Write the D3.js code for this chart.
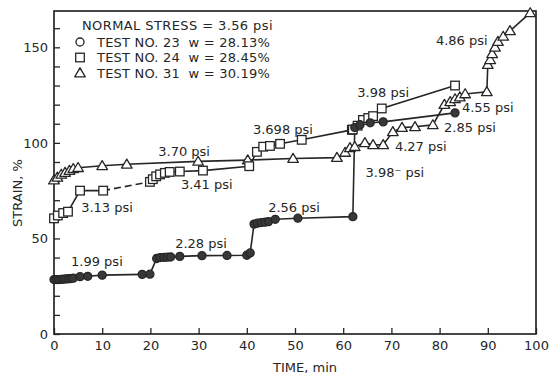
<!DOCTYPE html>
<html>
<head>
<meta charset="utf-8">
<script src="https://cdn.jsdelivr.net/npm/d3@7/dist/d3.min.js"></script>
<style>
  html, body { margin: 0; padding: 0; background: #fff; }
  svg { display: block; font-family: "DejaVu Sans", sans-serif; }
</style>
</head>
<body>
<svg id="chart" width="558" height="378"></svg>
<script>
// Creep test series: time (min) and strain (%)
const test23Time   = [0, 0.5, 1, 1.5, 2, 2.5, 3, 3.5, 4, 5.4, 7, 10, 18.3, 19.9, 21.3, 22, 22.8, 23.5, 24.2, 26.1, 30.7, 35.9, 40, 40.7, 41.5, 42.2, 43, 43.8, 44.5, 45.9, 50.6, 62, 62.4, 63.5, 65.6, 68.3, 83.2];
const test23Strain = [28.5, 28.5, 28.5, 28.6, 28.7, 28.8, 28.9, 29, 29.2, 30, 30.2, 30.8, 31.2, 31.3, 39.5, 40, 40.1, 40.2, 40.3, 40.6, 41, 41.1, 41.2, 42.4, 57.5, 58, 58.3, 58.5, 58.8, 60, 60.6, 61.4, 108, 109.5, 110.5, 111, 115.7];

const test24Time   = [0, 0.8, 1.9, 2.9, 5.4, 10.2, 19.9, 20.5, 21.2, 22, 23, 24, 26.1, 30.9, 40.5, 42.1, 43.4, 44.8, 46.9, 51.4, 61.8, 62, 63, 64.1, 65.2, 66.2, 68, 83.2];
const test24Strain = [60.5, 62, 63.3, 64, 75, 75, 79.6, 81, 82.5, 83.5, 84.3, 84.8, 85, 85.5, 87.8, 95.3, 98, 98.4, 99.5, 101.6, 106.8, 107, 109, 112, 113, 114, 118, 130];

const test31Time   = [0, 0.7, 1.5, 2.3, 3.2, 4, 5, 10, 15.1, 29.9, 40.2, 49.6, 58.7, 60.4, 61.4, 62.4, 64.5, 66.2, 68.3, 70.3, 72.2, 74.9, 78.6, 81, 82.2, 83.2, 84.2, 85.3, 89.8, 90, 90.5, 90.9, 91.5, 92.1, 93.2, 94.6, 98.8];
const test31Strain = [80.5, 82, 83.5, 84.5, 85.5, 86.5, 87, 88, 88.8, 90.3, 91, 91.8, 92.3, 95, 97.4, 98, 100, 99, 99, 105.8, 108, 108.4, 109.4, 120, 121.5, 123, 124, 125.6, 126.7, 141, 143.5, 146.6, 150, 153, 155.7, 158.6, 168];

// Axis ticks
const xTicks = [0, 10, 20, 30, 40, 50, 60, 70, 80, 90, 100];
const yTicks = [0, 10, 20, 30, 40, 50, 60, 70, 80, 90, 100, 110, 120, 130, 140, 150, 160];
const yTickLabels = [0, 50, 100, 150];

// Stress annotations: text, time, strain
const labelText   = ["1.99 psi", "2.28 psi", "2.56 psi", "3.13 psi", "3.41 psi", "3.70 psi", "3.698 psi", "3.98 psi", "3.98\u207B psi", "4.27 psi", "2.85 psi", "4.55 psi", "4.86 psi"];
const labelTime   = [8.9, 30.5, 49.8, 11, 31.7, 27, 47.5, 68.3, 70.7, 76.1, 86.3, 90, 84.6];
const labelStrain = [37.7, 47.6, 66, 66, 78, 95.3, 106.8, 126.2, 84.3, 97.9, 107.9, 118.3, 153.4];

// Legend
const legendTitle = "NORMAL STRESS = 3.56 psi";
const legendRows  = ["TEST NO. 23  w = 28.13%", "TEST NO. 24  w = 28.45%", "TEST NO. 31  w = 30.19%"];
const legendMarks = ["circle", "square", "triangle"];

const W = 558, H = 378;
const margin = { top: 11, right: 22, bottom: 44, left: 54 };
const ink = "#262626";
const fontSize = "13px";

const svg = d3.select("#chart");
const x = d3.scaleLinear().domain([0, 100]).range([margin.left, W - margin.right]);
const y = d3.scaleLinear().domain([0, 169]).range([H - margin.bottom, margin.top]);

// Axes with inward ticks
const xAxis = svg.append("g")
  .attr("transform", `translate(0,${H - margin.bottom})`)
  .call(d3.axisBottom(x).tickValues(xTicks).tickSize(-6).tickPadding(7).tickFormat(d3.format("d")));
const yAxis = svg.append("g")
  .attr("transform", `translate(${margin.left},0)`)
  .call(d3.axisLeft(y).tickValues(yTicks).tickSize(-6).tickPadding(6)
    .tickFormat(d => yTickLabels.includes(d) ? d : ""));
[xAxis, yAxis].forEach(g => {
  g.select(".domain").remove();
  g.selectAll(".tick line").attr("stroke", ink).attr("stroke-width", 1.3);
  g.selectAll(".tick text").attr("fill", ink).style("font-size", fontSize)
    .style("font-family", "'DejaVu Sans', sans-serif");
});

// Plot frame
svg.append("rect")
  .attr("x", x(0)).attr("y", y(169))
  .attr("width", x(100) - x(0)).attr("height", y(0) - y(169))
  .attr("fill", "none").attr("stroke", ink).attr("stroke-width", 1.7);

// Axis titles
svg.append("text")
  .attr("x", (x(0) + x(100)) / 2 + 10).attr("y", 372)
  .attr("text-anchor", "middle").attr("fill", ink)
  .style("font-size", fontSize).text("TIME, min");
svg.append("text")
  .attr("transform", `translate(22,193) rotate(-90)`)
  .attr("text-anchor", "middle").attr("fill", ink)
  .style("font-size", fontSize).text("STRAIN, %");

const pts = (t, s) => t.map((d, i) => [d, s[i]]);
const line = d3.line().x(d => x(d[0])).y(d => y(d[1]));

const series23 = pts(test23Time, test23Strain);
const series24 = pts(test24Time, test24Strain);
const series31 = pts(test31Time, test31Strain);

// Connecting lines
const lines = svg.append("g").attr("fill", "none").attr("stroke", ink).attr("stroke-width", 1.6);
lines.append("path").attr("d", line(series23));
lines.append("path").attr("d", line(series31));
// Test 24: dashed stretch between 10 and 20 minutes
const dashStart = 5;
lines.append("path").attr("d", line(series24.slice(0, dashStart + 1)));
lines.append("path").attr("d", line(series24.slice(dashStart, dashStart + 2)))
  .attr("stroke-dasharray", "7,4");
lines.append("path").attr("d", line(series24.slice(dashStart + 1)));

// Marker shapes
function marker(g, kind, cx, cy, filled) {
  const fill = filled ? "#383838" : "#fff";
  if (kind === "circle") {
    g.append("circle").attr("cx", cx).attr("cy", cy).attr("r", 4)
      .attr("fill", fill).attr("stroke", ink).attr("stroke-width", 1.3);
  } else if (kind === "square") {
    g.append("rect").attr("x", cx - 4.3).attr("y", cy - 4.3).attr("width", 8.6).attr("height", 8.6)
      .attr("fill", fill).attr("stroke", ink).attr("stroke-width", 1.3);
  } else {
    g.append("path")
      .attr("d", `M${cx},${cy - 5.2}L${cx + 5.3},${cy + 3.8}L${cx - 5.3},${cy + 3.8}Z`)
      .attr("fill", fill).attr("stroke", ink).attr("stroke-width", 1.3).attr("stroke-linejoin", "round");
  }
}

const marks = svg.append("g");
series31.forEach(d => marker(marks, "triangle", x(d[0]), y(d[1]), false));
series24.forEach(d => marker(marks, "square", x(d[0]), y(d[1]), false));
series23.forEach(d => marker(marks, "circle", x(d[0]), y(d[1]), true));

// Stress annotations
svg.append("g").selectAll("text")
  .data(labelText)
  .join("text")
  .attr("x", (d, i) => x(labelTime[i]))
  .attr("y", (d, i) => y(labelStrain[i]))
  .attr("dy", "0.35em")
  .attr("text-anchor", "middle")
  .attr("fill", ink)
  .style("font-size", fontSize)
  .text(d => d);

// Legend
const lg = svg.append("g");
lg.append("text").attr("x", 82).attr("y", 25).attr("dy", "0.35em")
  .attr("fill", ink).style("font-size", fontSize).style("letter-spacing", "0.4px").text(legendTitle);
legendRows.forEach((txt, i) => {
  const cy = 42 + i * 15.5;
  marker(lg, legendMarks[i], 80, cy, false);
  lg.append("text").attr("x", 97).attr("y", cy).attr("dy", "0.35em")
    .attr("fill", ink).style("font-size", fontSize).style("white-space", "pre")
    .style("letter-spacing", "0.2px")
    .attr("xml:space", "preserve").text(txt);
});
</script>
</body>
</html>
